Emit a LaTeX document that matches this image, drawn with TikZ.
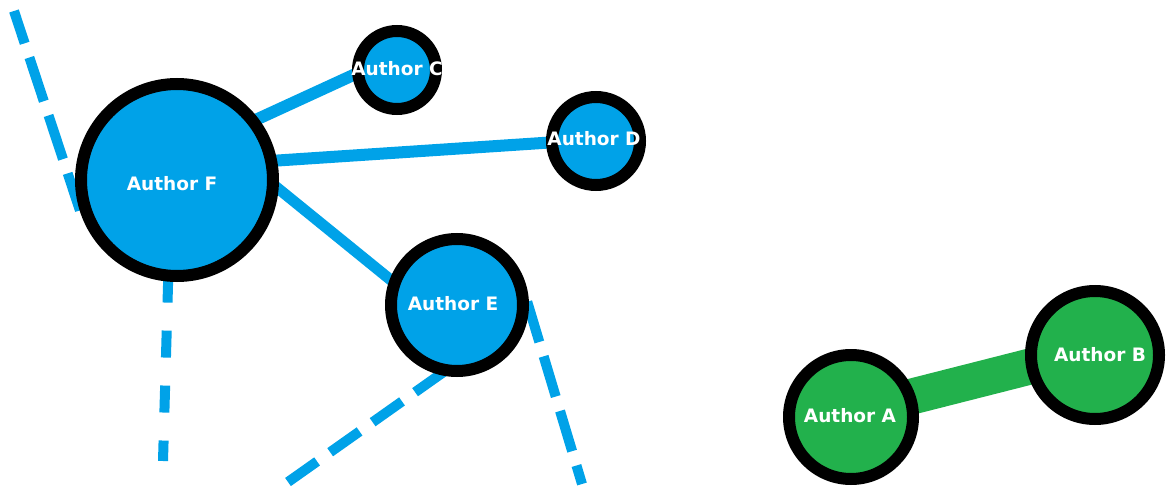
\documentclass[tikz,border=0pt]{standalone}
\usepackage{fontspec}
\setmainfont{DejaVu Sans}
\usetikzlibrary{backgrounds}
\definecolor{pblue}{RGB}{0,162,232}
\definecolor{pgreen}{RGB}{34,177,76}
\begin{document}
\begin{tikzpicture}[x=1pt,y=-1pt,
  author/.style={circle,draw=black,line width=12pt,inner sep=0pt},
  bluenode/.style={author,fill=pblue},
  greennode/.style={author,fill=pgreen},
  authname/.style={text=white,font=\fontsize{18.5}{21}\selectfont\bfseries,inner sep=0pt},
  link/.style={pblue,line width=12pt,shorten <=-6pt,shorten >=-6pt},
  dlink/.style={pblue,line width=10pt},
]
\useasboundingbox (0,0) rectangle (1168,487);
% author circles
\node[bluenode,minimum size=192pt] (F) at (177,180) {};
\node[bluenode,minimum size=78pt] (C) at (397,70) {};
\node[bluenode,minimum size=88pt] (D) at (596,141) {};
\node[bluenode,minimum size=132pt] (E) at (457,305) {};
\node[greennode,minimum size=124pt] (A) at (851,417) {};
\node[greennode,minimum size=128pt] (B) at (1095,355) {};
% names
\node[authname] (tF) at (172,184) {Author F};
\node[authname] (tC) at (397,68.5) {Author C};
\node[authname] (tD) at (594,138.5) {Author D};
\node[authname] (tE) at (453,303.5) {Author E};
\node[authname] (tA) at (850,415.5) {Author A};
\node[authname] (tB) at (1100,354.5) {Author B};
% free ends
\coordinate (d1) at (14,11);
\coordinate (d2) at (163,461);
\coordinate (d3) at (288,482);
\coordinate (d4) at (582,484);
\begin{scope}[on background layer]
  \draw[link] (F.37) -- (C.187);
  \draw[link] (F.11) -- (D.182);
  \draw[link,line width=11pt] (F.355) -- (E.159);
  \draw[pgreen,line width=36pt,shorten <=-6pt,shorten >=-6pt,transform canvas={yshift=5pt}] (A) -- (B);
  \draw[dlink,dash pattern=on 46pt off 15pt,dash phase=12pt,shorten >=-6pt] (d1) -- (F.194);
  \draw[dlink,dash pattern=on 27pt off 28pt,shorten <=-6pt] (F.265) -- (d2);
  \draw[dlink,dash pattern=on 36pt off 16pt,shorten <=-6pt] (E.256) -- (d3);
  \draw[dlink,dash pattern=on 42pt off 15pt,shorten <=-6pt] (E.358) -- (d4);
\end{scope}
\end{tikzpicture}
\end{document}
